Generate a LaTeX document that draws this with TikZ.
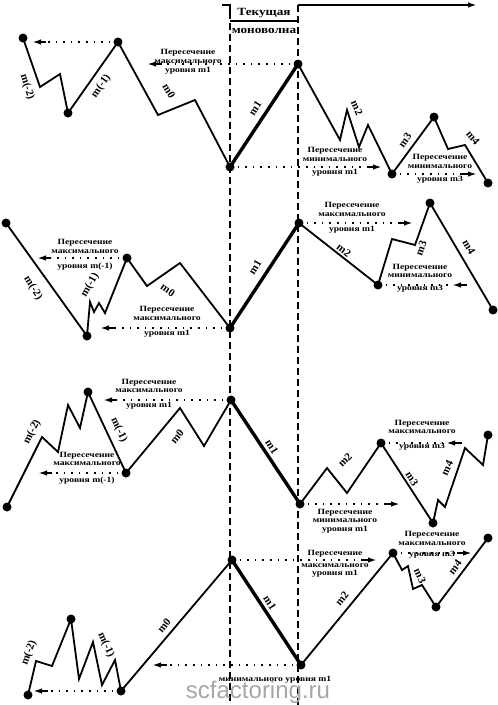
\documentclass[tikz,border=0pt]{standalone}
\usepackage{fontspec}
\setmainfont{Liberation Serif}
\newfontfamily\widefont{Liberation Serif}[FakeStretch=1.2]
\newfontfamily\wmfont{Liberation Sans}
\usetikzlibrary{arrows.meta}

\begin{document}
\begin{tikzpicture}[x=1pt, y=-1pt, >={Latex[length=9pt,width=5.5pt]},
    wave/.style={line width=1.8pt, line join=miter},
    mainwave/.style={line width=3.4pt},
    lvl/.style={line width=1.6pt, dash pattern=on 1.6pt off 6pt},
    guide/.style={line width=1.3pt, dash pattern=on 7pt off 4pt},
    arrowhd/.style={->, line width=2pt},
    note/.style={font=\widefont\fontsize{8}{8.5}\selectfont\bfseries, align=center, inner sep=0pt},
    lab/.style={font=\fontsize{11}{11}\selectfont\bfseries, inner sep=0pt}]
    \useasboundingbox (0,0) rectangle (498,705);

    % current monowave header
    \draw[line width=1.3pt] (222,5) -- (230,5) -- (230,12);
    \draw[guide] (230,12) -- (230,705);
    \draw[guide] (298,5) -- (298,705);
    \draw[line width=1.5pt] (230,21) -- (298,21);
    \draw[arrowhd, line width=2.2pt] (298,5) -- (477,5);
    \node[font=\widefont\fontsize{11}{11}\selectfont\bfseries] (cur1) at (264,13) {Текущая};
    \node[font=\widefont\fontsize{11}{11}\selectfont\bfseries] (cur2) at (264,31) {моноволна};

    % ---- panel 1
    \coordinate (a1) at (23,38);   \coordinate (a2) at (68,113);
    \coordinate (a3) at (118,42);  \coordinate (a4) at (230,167);
    \coordinate (a5) at (298,64);  \coordinate (a6) at (392,174);
    \coordinate (a7) at (434,117); \coordinate (a8) at (488,183);
    \draw[wave] (a1) -- (40,87) -- (60,74) -- (a2) -- (a3) -- (158,115) -- (195,100) -- (a4);
    \draw[mainwave] (a4) -- (a5);
    \draw[wave] (a5) -- (340,140) -- (347,110) -- (359,147) -- (368,125) -- (a6) -- (a7)
        -- (448,149) -- (465,145) -- (a8);
    \draw[lvl] (a3) -- ++(-72,0) coordinate (h1);  \draw[arrowhd] (h1) -- ++(-14,0);
    \draw[lvl] (a5) -- ++(-137,0) coordinate (h2); \draw[arrowhd] (h2) -- ++(-14,0);
    \draw[lvl] (a4) -- ++(137,0) coordinate (h3);  \draw[arrowhd] (h3) -- ++(15,0);
    \draw[lvl] (a6) -- ++(70,0) coordinate (h4);   \draw[arrowhd] (h4) -- ++(15,0);
    \foreach \p in {a1,a2,a3,a4,a5,a6,a7,a8} \fill (\p) circle (4.5pt);
    \node[lab, rotate=-72] (la1) at (27,87) {m(-2)};
    \node[lab, rotate=55] (la2) at (101,86) {m(-1)};
    \node[lab, rotate=-60] (la3) at (169,91) {m0};
    \node[lab, rotate=57] (la4) at (255,108) {m1};
    \node[lab, rotate=-65] (la5) at (357,108) {m2};
    \node[lab, rotate=55] (la6) at (405,140) {m3};
    \node[lab, rotate=-50] (la7) at (473,138) {m4};
    \node[note] (n1) at (188,62) {Пересечение\\максимального\\[1pt]уровня m1};
    \node[note] (n2) at (335,162) {Пересечение\\минимального\\[5pt]уровня m1};
    \node[note] (n3) at (440,169) {Пересечение\\минимального\\[5pt]уровня m3};

    % ---- panel 2
    \coordinate (b1) at (6,223);   \coordinate (b2) at (87,336);
    \coordinate (b3) at (127,258); \coordinate (b4) at (230,328);
    \coordinate (b5) at (299,223); \coordinate (b6) at (378,285);
    \coordinate (b7) at (430,203); \coordinate (b8) at (493,310);
    \draw[wave] (b1) -- (b2) -- (90,302) -- (94,312) -- (99,303) -- (105,313) -- (b3)
        -- (147,286) -- (180,263) -- (b4);
    \draw[mainwave] (b4) -- (b5);
    \draw[wave] (b5) -- (b6) -- (392,239) -- (415,245) -- (b7) -- (b8);
    \draw[lvl] (b3) -- ++(-76,0) coordinate (h5);  \draw[arrowhd] (h5) -- ++(-14,0);
    \draw[lvl] (b4) -- ++(-116,0) coordinate (h6); \draw[arrowhd] (h6) -- ++(-14,0);
    \draw[lvl] (b5) -- ++(99,0) coordinate (h7);   \draw[arrowhd] (h7) -- ++(15,0);
    \draw[lvl] (b6) -- ++(72,0) coordinate (h8);   \draw[arrowhd] (h8) ++(17,0) -- ++(-15,0);
    \foreach \p in {b1,b2,b3,b4,b5,b6,b7,b8} \fill (\p) circle (4.5pt);
    \node[lab, rotate=-58] (lb1) at (33,288) {m(-2)};
    \node[lab, rotate=60] (lb2) at (90,285) {m(-1)};
    \node[lab, rotate=-35] (lb3) at (168,290) {m0};
    \node[lab, rotate=58] (lb4) at (255,267) {m1};
    \node[lab, rotate=-38] (lb5) at (344,250) {m2};
    \node[lab, rotate=70] (lb6) at (421,248) {m3};
    \node[lab, rotate=-60] (lb7) at (469,247) {m4};
    \node[note] (n4) at (85,255) {Пересечение\\максимального\\[7pt]уровня m(-1)};
    \node[note] (n5) at (167,322) {Пересечение\\максимального\\[7pt]уровня m1};
    \node[note] (n6) at (352,218) {Пересечение\\максимального\\[7pt]уровня m1};
    \node[note] (n7) at (420,278) {Пересечение\\минимального\\[4pt]уровня m3};

    % ---- panel 3
    \coordinate (c1) at (7,507);   \coordinate (c2) at (88,392);
    \coordinate (c3) at (126,473); \coordinate (c4) at (231,400);
    \coordinate (c5) at (300,504); \coordinate (c6) at (381,443);
    \coordinate (c7) at (433,523); \coordinate (c8) at (488,435);
    \draw[wave] (c1) -- (42,437) -- (58,452) -- (68,405) -- (80,428) -- (c2) -- (c3)
        -- (180,408) -- (204,446) -- (c4);
    \draw[mainwave] (c4) -- (c5);
    \draw[wave] (c5) -- (327,468) -- (347,493) -- (c6) -- (c7) -- (438,500) -- (445,507)
        -- (465,448) -- (483,465) -- (c8);
    \draw[lvl] (c4) -- ++(-114,0) coordinate (h9); \draw[arrowhd] (h9) -- ++(-14,0);
    \draw[lvl] (c3) -- ++(-74,0) coordinate (h10); \draw[arrowhd] (h10) -- ++(-14,0);
    \draw[lvl] (c5) -- ++(85,0) coordinate (h11);  \draw[arrowhd] (h11) -- ++(15,0);
    \draw[lvl] (c6) -- ++(63,0) coordinate (h12);  \draw[arrowhd] (h12) ++(18,0) -- ++(-16,0);
    \foreach \p in {c1,c2,c3,c4,c5,c6,c7,c8} \fill (\p) circle (4.5pt);
    \node[lab, rotate=63] (lc1) at (32,432) {m(-2)};
    \node[lab, rotate=-65] (lc2) at (119,430) {m(-1)};
    \node[lab, rotate=50] (lc3) at (177,437) {m0};
    \node[lab, rotate=-57] (lc4) at (272,447) {m1};
    \node[lab, rotate=45] (lc5) at (345,460) {m2};
    \node[lab, rotate=-57] (lc6) at (412,479) {m3};
    \node[lab, rotate=65] (lc7) at (447,468) {m4};
    \node[note] (n8) at (149,394) {Пересечение\\максимального\\[6pt]уровня m1};
    \node[note] (n9) at (87,468) {Пересечение\\максимального\\[8pt]уровня m(-1)};
    \node[note] (n10) at (345,521) {Пересечение\\минимального\\уровня m1};
    \node[note] (n11) at (422,435) {Пересечение\\максимального\\[6pt]уровня m3};

    % ---- panel 4
    \coordinate (d1) at (28,695);  \coordinate (d2) at (71,619);
    \coordinate (d3) at (121,691); \coordinate (d4) at (232,560);
    \coordinate (d5) at (301,665); \coordinate (d6) at (393,553);
    \coordinate (d7) at (436,607); \coordinate (d8) at (488,538);
    \draw[wave] (d1) -- (36,661) -- (52,666) -- (d2) -- (79,679) -- (93,642) -- (102,685)
        -- (115,660) -- (d3) -- (d4);
    \draw[mainwave] (d4) -- (d5);
    \draw[wave] (d5) -- (d6) -- (402,570) -- (408,566) -- (413,589) -- (422,585) -- (d7) -- (d8);
    \draw[lvl] (d3) -- ++(-73,0) coordinate (h13); \draw[arrowhd] (h13) -- ++(-15,0);
    \draw[lvl] (d4) -- ++(129,0) coordinate (h14); \draw[arrowhd] (h14) -- ++(16,0);
    \draw[lvl] (d5) -- ++(-134,0) coordinate (h15); \draw[arrowhd] (h15) -- ++(-15,0);
    \draw[lvl] (d6) -- ++(64,0) coordinate (h16);  \draw[arrowhd] (h16) -- ++(15,0);
    \foreach \p in {d1,d2,d3,d4,d5,d6,d7,d8} \fill (\p) circle (4.5pt);
    \node[lab, rotate=70] (ld1) at (29,653) {m(-2)};
    \node[lab, rotate=-65] (ld2) at (106,645) {m(-1)};
    \node[lab, rotate=50] (ld3) at (164,626) {m0};
    \node[lab, rotate=-57] (ld4) at (270,603) {m1};
    \node[lab, rotate=51] (ld5) at (342,599) {m2};
    \node[lab, rotate=-65] (ld6) at (420,576) {m3};
    \node[lab, rotate=53] (ld7) at (455,567) {m4};
    \node[note] (n12) at (335,564) {Пересечение\\[3pt]максимального\\уровня m1};
    \node[note] (n13) at (275,680) {минимального уровня m1};
    \node[note] (n14) at (432,545) {Пересечение\\максимального\\[3pt]уровня m3};

    \node[font=\wmfont\fontsize{24}{24}\selectfont, text=black!35] (wm) at (258,692) {scfactoring.ru};
\end{tikzpicture}
\end{document}
